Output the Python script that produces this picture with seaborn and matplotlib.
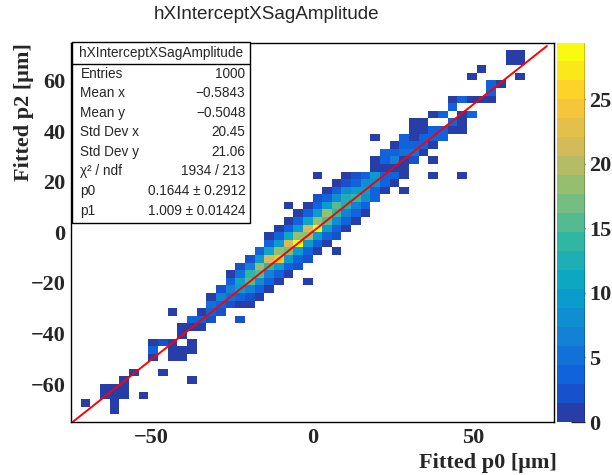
import numpy as np
import pandas as pd
import matplotlib
matplotlib.use("Agg")
import matplotlib.pyplot as plt
import seaborn as sns
from matplotlib.colors import LinearSegmentedColormap, ListedColormap
from matplotlib.patches import Rectangle
from matplotlib.lines import Line2D
from matplotlib.ticker import MultipleLocator

# ---- histogram content: column index, row index, entries (50 x 50 bins on [-75, 75]) ----
bin_col = [1,
           3, 3,
           4, 4, 4, 4,
           5, 5, 5,
           6, 7,
           8, 8, 8,
           9, 9,
           10, 10, 10, 10,
           11, 11, 11, 11,
           12, 12, 12, 12, 12,
           13, 13, 13,
           14, 14, 14, 14,
           15, 15, 15, 15,
           16, 16, 16, 16, 16,
           17, 17, 17, 17, 17, 17, 17,
           18, 18, 18, 18, 18, 18, 18,
           19, 19, 19, 19, 19, 19, 19,
           20, 20, 20, 20, 20, 20, 20, 20,
           21, 21, 21, 21, 21, 21, 21, 21,
           22, 22, 22, 22, 22, 22, 22, 22, 22,
           23, 23, 23, 23, 23, 23, 23, 23,
           24, 24, 24, 24, 24, 24, 24, 24, 24,
           25, 25, 25, 25, 25, 25, 25, 25, 25,
           26, 26, 26, 26, 26, 26, 26, 26,
           27, 27, 27, 27, 27, 27, 27, 27, 27,
           28, 28, 28, 28, 28, 28, 28, 28,
           29, 29, 29, 29, 29, 29, 29,
           30, 30, 30, 30, 30, 30,
           31, 31, 31, 31, 31, 31, 31,
           32, 32, 32, 32, 32, 32,
           33, 33, 33, 33, 33, 33,
           34, 34, 34, 34, 34, 34, 34,
           35, 35, 35, 35, 35, 35,
           36, 36, 36, 36, 36,
           37, 37, 37, 37, 37, 37,
           38, 38, 38,
           39, 39, 39, 39,
           40, 40, 40, 40, 40,
           41, 41, 41,
           42, 42,
           43, 43, 43,
           44,
           45, 45,
           46, 46, 46]
bin_row = [2,
           3, 4,
           1, 2, 3, 4,
           3, 4, 5,
           6, 3,
           8, 9, 10,
           6, 10,
           8, 9, 10, 14,
           8, 9, 11, 12,
           5, 9, 10, 12, 13,
           12, 13, 14,
           13, 14, 15, 16,
           14, 15, 16, 17,
           15, 16, 17, 18, 19,
           13, 15, 16, 17, 18, 19, 20,
           15, 16, 17, 18, 19, 20, 21,
           16, 17, 18, 19, 20, 21, 22,
           17, 18, 19, 20, 21, 22, 23, 24,
           18, 19, 20, 21, 22, 23, 24, 25,
           19, 20, 21, 22, 23, 24, 25, 26, 28,
           20, 21, 22, 23, 24, 25, 26, 27,
           18, 21, 22, 23, 24, 25, 26, 27, 28,
           22, 23, 24, 25, 26, 27, 28, 29, 32,
           23, 24, 25, 26, 27, 28, 29, 30,
           22, 24, 25, 26, 27, 28, 29, 30, 31,
           25, 26, 27, 28, 29, 30, 31, 32,
           26, 27, 28, 29, 30, 31, 32,
           27, 28, 29, 30, 31, 32,
           29, 30, 31, 32, 33, 34, 37,
           30, 31, 32, 33, 34, 35,
           31, 32, 33, 34, 35, 36,
           30, 32, 33, 34, 35, 36, 37,
           34, 35, 36, 37, 38, 39,
           35, 36, 37, 38, 39,
           32, 34, 36, 37, 38, 40,
           37, 38, 40,
           38, 39, 41, 42,
           32, 38, 39, 40, 42,
           40, 42, 45,
           42, 46,
           42, 43, 44,
           44,
           47, 48,
           45, 47, 48]
bin_count = [1,
             1, 1,
             1, 1, 1, 1,
             1, 1, 1,
             1, 1,
             1, 3, 1,
             1, 2,
             1, 1, 1, 1,
             1, 1, 1, 1,
             1, 1, 1, 1, 3,
             1, 3, 1,
             2, 4, 5, 1,
             2, 4, 6, 2,
             2, 5, 6, 3, 1,
             2, 1, 4, 9, 11, 5, 2,
             1, 2, 6, 16, 14, 6, 2,
             1, 3, 8, 15, 18, 9, 3,
             1, 3, 7, 14, 21, 11, 4, 1,
             1, 3, 9, 24, 19, 10, 3, 1,
             1, 4, 9, 17, 22, 11, 4, 1, 1,
             2, 4, 10, 28, 19, 10, 3, 1,
             1, 2, 4, 9, 19, 21, 11, 4, 1,
             1, 4, 10, 28, 19, 10, 4, 2, 1,
             1, 4, 9, 16, 18, 9, 3, 1,
             1, 2, 4, 8, 14, 15, 8, 3, 1,
             1, 3, 6, 12, 13, 8, 2, 1,
             1, 3, 6, 14, 9, 3, 2,
             1, 3, 8, 10, 8, 3,
             3, 3, 8, 9, 1, 1, 1,
             1, 3, 3, 1, 3, 3,
             1, 3, 1, 7, 3, 1,
             1, 1, 1, 1, 5, 3, 3,
             2, 5, 3, 1, 1, 1,
             1, 3, 3, 1, 1,
             1, 1, 1, 3, 3, 1,
             3, 3, 3,
             1, 3, 3, 1,
             1, 1, 1, 1, 3,
             3, 1, 1,
             1, 1,
             1, 3, 3,
             1,
             1, 1,
             1, 1, 1]

# straight-line fit p2 = p0_fit + p1_fit * p0
fit_p0 = 0.1644
fit_p1 = 1.009
fit_range = [-75.0, 72.8]

stat_labels = ["Entries", "Mean x", "Mean y", "Std Dev x", "Std Dev y",
               "\u03c7\u00b2 / ndf", "p0", "p1"]
stat_values = ["1000", "\u22120.5843", "\u22120.5048", "20.45", "21.06",
               "1934 / 213", "0.1644 \u00b1 0.2912", "1.009 \u00b1 0.01424"]

hist_name = "hXInterceptXSagAmplitude"
nbins, lo, hi = 50, -75.0, 75.0
zmax = 29.4
n_levels = 20

# ---- figure ----
sns.set_style("white")
W, H = 612, 475
fig = plt.figure(figsize=(W / 100, H / 100), dpi=100)
fig.patch.set_facecolor("white")

def fx(px):
    return px / W

def fy(py):
    return 1 - py / H

L, R, T, B = 71, 554, 42.5, 422
ax = fig.add_axes([fx(L), fy(B), fx(R - L), (B - T) / H])
cax = fig.add_axes([fx(557), fy(B), fx(28), (B - T) / H])

# ROOT "bird" palette sampled into the 20 contour levels of COLZ
bird_r = [0.2082, 0.0592, 0.0780, 0.0232, 0.1802, 0.5301, 0.8186, 0.9956, 0.9764]
bird_g = [0.1664, 0.3599, 0.5041, 0.6419, 0.7178, 0.7492, 0.7328, 0.7862, 0.9832]
bird_b = [0.5293, 0.8684, 0.8385, 0.7914, 0.6425, 0.4662, 0.3499, 0.1968, 0.0539]
bird = LinearSegmentedColormap.from_list(
    "bird", list(zip(np.linspace(0, 1, 9), zip(bird_r, bird_g, bird_b))))
fracs = [np.floor((k + 0.99) * 255 / n_levels) / 254 for k in range(n_levels)]
cmap = ListedColormap([bird(f) for f in fracs])

centers = lo + (np.arange(nbins) + 0.5) * (hi - lo) / nbins
df = pd.DataFrame({
    "p0": centers[np.array(bin_col)],
    "p2": centers[np.array(bin_row)],
    "n": bin_count,
})

sns.histplot(data=df, x="p0", y="p2", weights="n", bins=nbins,
             binrange=((lo, hi), (lo, hi)), cmap=cmap, vmin=0, vmax=zmax,
             cbar=True, cbar_ax=cax, ax=ax)

xs = np.array(fit_range)
ax.plot(xs, fit_p0 + fit_p1 * xs, color="red", lw=1.4, zorder=5)

ax.set_xlim(lo, hi)
ax.set_ylim(lo, hi)
ax.set_xlabel("")
ax.set_ylabel("")

tick_font = dict(family="Liberation Serif", weight="bold", size=16)
ax.xaxis.set_major_locator(MultipleLocator(50))
ax.xaxis.set_minor_locator(MultipleLocator(10))
ax.yaxis.set_major_locator(MultipleLocator(20))
ax.yaxis.set_minor_locator(MultipleLocator(5))
ax.tick_params(axis="x", which="major", direction="in", length=8, width=1,
               top=False, pad=4)
ax.tick_params(axis="x", which="minor", direction="in", length=4, width=1, top=False)
ax.tick_params(axis="y", which="major", direction="in", length=10, width=1,
               right=False, pad=4)
ax.tick_params(axis="y", which="minor", direction="in", length=5, width=1, right=False)
for lab in ax.get_xticklabels() + ax.get_yticklabels():
    lab.set_fontproperties(matplotlib.font_manager.FontProperties(**tick_font))
for sp in ax.spines.values():
    sp.set_visible(True)
    sp.set_color("black")
    sp.set_linewidth(1.0)

# colour scale
cax.set_ylim(0, zmax)
cax.yaxis.set_major_locator(MultipleLocator(5))
cax.yaxis.set_minor_locator(plt.NullLocator())
cax.tick_params(axis="y", which="major", direction="in", length=10, width=1,
                left=False, right=True, labelleft=False, labelright=True, pad=3)
for lab in cax.get_yticklabels():
    lab.set_fontproperties(matplotlib.font_manager.FontProperties(**tick_font))
for sp in cax.spines.values():
    sp.set_visible(False)
cax.add_line(Line2D([1, 1], [0, 1], transform=cax.transAxes, color="black", lw=1))
try:
    cax.collections[0].colorbar.outline.set_visible(False)
except Exception:
    pass

# titles
fig.text(fx(266.5), fy(19), hist_name, family="Liberation Sans", size=13.6,
         ha="center", va="baseline")
fig.text(fx(557), fy(468), "Fitted p0 [\u03bcm]", family="Liberation Serif",
         weight="bold", size=16, ha="right", va="baseline")
fig.text(fx(24), fy(43), "Fitted p2 [\u03bcm]", family="Liberation Serif",
         weight="bold", size=16, ha="center", va="top", rotation=90)

# statistics box
bx0, bx1, by0, by1 = 72, 250, 42.5, 223
fig.add_artist(Rectangle((fx(bx0), fy(by1)), fx(bx1 - bx0), (by1 - by0) / H,
                         transform=fig.transFigure, facecolor="white",
                         edgecolor="black", lw=1, zorder=10))
fig.add_artist(Line2D([fx(bx0), fx(bx1)], [fy(64), fy(64)],
                      transform=fig.transFigure, color="black", lw=1, zorder=11))
stat_font = dict(family="Liberation Sans", size=9.8, zorder=12)
fig.text(fx((bx0 + bx1) / 2), fy(53.5), hist_name, ha="center", va="center", **stat_font)
for k, (lab, val) in enumerate(zip(stat_labels, stat_values)):
    yy = 73.5 + k * 19.6
    fig.text(fx(80.5), fy(yy), lab, ha="left", va="center", **stat_font)
    fig.text(fx(245.5), fy(yy), val, ha="right", va="center", **stat_font)

fig.savefig("out.png", dpi=100, facecolor="white")
